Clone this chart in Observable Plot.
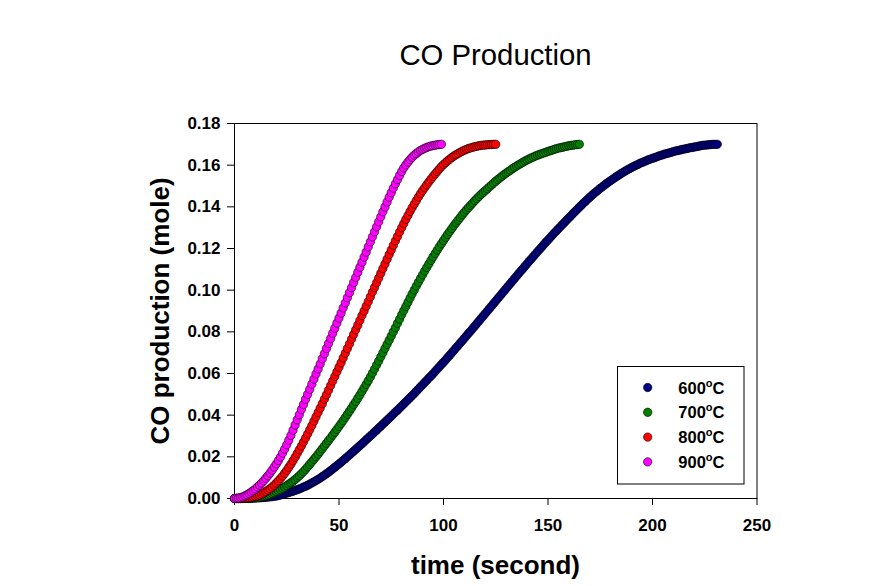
<!DOCTYPE html>
<html><head><meta charset="utf-8">
<script src="https://cdn.jsdelivr.net/npm/d3@7"></script>
<script src="https://cdn.jsdelivr.net/npm/@observablehq/plot@0.6"></script>
<style>
body{margin:0;background:#fff;}
#chart{position:relative;width:870px;height:586px;}
svg{font-family:"Liberation Sans",Arial,sans-serif;}
</style></head><body><div id="chart"></div>
<script>
const chartTitle = "CO Production";
const xLabel = "time (second)";
const yLabel = "CO production (mole)";
const seriesNames = ["600°C", "700°C", "800°C", "900°C"];
const seriesColors = ["#000080", "#008000", "#ff0000", "#ff00ff"];
const timeStep = 1; // seconds between samples
const xTicks = [0, 50, 100, 150, 200, 250];
const xTickLabels = ["0", "50", "100", "150", "200", "250"];
const yTicks = [0, 0.02, 0.04, 0.06, 0.08, 0.10, 0.12, 0.14, 0.16, 0.18];
const yTickLabels = ["0.00", "0.02", "0.04", "0.06", "0.08", "0.10", "0.12", "0.14", "0.16", "0.18"];

const co600 = [
0.0000,0.0000,0.0000,0.0000,0.0000,0.0001,0.0001,0.0001,0.0001,0.0002,
0.0002,0.0003,0.0003,0.0004,0.0005,0.0006,0.0007,0.0008,0.0009,0.0011,
0.0012,0.0014,0.0017,0.0019,0.0022,0.0026,0.0029,0.0032,0.0035,0.0039,
0.0042,0.0046,0.0050,0.0055,0.0059,0.0064,0.0069,0.0075,0.0080,0.0086,
0.0092,0.0098,0.0105,0.0112,0.0119,0.0126,0.0134,0.0142,0.0150,0.0158,
0.0166,0.0174,0.0183,0.0191,0.0200,0.0209,0.0218,0.0227,0.0236,0.0245,
0.0254,0.0263,0.0272,0.0282,0.0291,0.0300,0.0309,0.0319,0.0328,0.0338,
0.0347,0.0357,0.0366,0.0376,0.0385,0.0395,0.0405,0.0415,0.0424,0.0434,
0.0444,0.0454,0.0464,0.0474,0.0484,0.0494,0.0504,0.0515,0.0525,0.0536,
0.0546,0.0557,0.0567,0.0578,0.0588,0.0599,0.0610,0.0621,0.0632,0.0643,
0.0654,0.0665,0.0677,0.0688,0.0700,0.0711,0.0723,0.0734,0.0746,0.0757,
0.0769,0.0781,0.0793,0.0804,0.0816,0.0828,0.0840,0.0852,0.0864,0.0876,
0.0888,0.0900,0.0912,0.0924,0.0936,0.0948,0.0960,0.0972,0.0984,0.0996,
0.1008,0.1020,0.1032,0.1044,0.1056,0.1068,0.1080,0.1092,0.1103,0.1115,
0.1127,0.1139,0.1150,0.1162,0.1173,0.1185,0.1196,0.1207,0.1219,0.1230,
0.1241,0.1252,0.1263,0.1274,0.1284,0.1295,0.1305,0.1316,0.1326,0.1337,
0.1347,0.1357,0.1368,0.1378,0.1388,0.1398,0.1408,0.1418,0.1427,0.1437,
0.1446,0.1455,0.1464,0.1472,0.1480,0.1489,0.1496,0.1504,0.1512,0.1519,
0.1526,0.1533,0.1540,0.1547,0.1553,0.1560,0.1566,0.1572,0.1578,0.1583,
0.1589,0.1594,0.1599,0.1603,0.1609,0.1613,0.1617,0.1621,0.1626,0.1629,
0.1633,0.1636,0.1640,0.1644,0.1647,0.1650,0.1654,0.1656,0.1659,0.1662,
0.1665,0.1668,0.1670,0.1672,0.1675,0.1677,0.1679,0.1681,0.1684,0.1685,
0.1687,0.1689,0.1691,0.1693,0.1695,0.1696,0.1697,0.1698,0.1699,0.1700,
0.1700,0.1700];

const co700 = [
0.0000,0.0000,0.0000,0.0000,0.0001,0.0001,0.0001,0.0002,0.0002,0.0003,
0.0004,0.0005,0.0007,0.0009,0.0011,0.0014,0.0017,0.0020,0.0024,0.0028,
0.0033,0.0038,0.0043,0.0049,0.0055,0.0062,0.0069,0.0076,0.0083,0.0091,
0.0100,0.0109,0.0119,0.0129,0.0140,0.0152,0.0164,0.0176,0.0188,0.0200,
0.0213,0.0226,0.0239,0.0252,0.0265,0.0278,0.0291,0.0305,0.0318,0.0332,
0.0346,0.0360,0.0374,0.0389,0.0404,0.0419,0.0434,0.0450,0.0465,0.0481,
0.0497,0.0514,0.0531,0.0548,0.0565,0.0583,0.0602,0.0621,0.0641,0.0660,
0.0680,0.0700,0.0720,0.0740,0.0760,0.0780,0.0800,0.0820,0.0841,0.0861,
0.0882,0.0902,0.0922,0.0942,0.0962,0.0982,0.1001,0.1020,0.1038,0.1056,
0.1074,0.1092,0.1109,0.1126,0.1143,0.1160,0.1176,0.1192,0.1208,0.1223,
0.1238,0.1253,0.1268,0.1282,0.1296,0.1310,0.1323,0.1336,0.1349,0.1362,
0.1374,0.1386,0.1397,0.1408,0.1419,0.1430,0.1440,0.1450,0.1460,0.1469,
0.1478,0.1487,0.1496,0.1505,0.1514,0.1523,0.1531,0.1539,0.1547,0.1555,
0.1562,0.1569,0.1576,0.1583,0.1590,0.1596,0.1602,0.1608,0.1614,0.1620,
0.1625,0.1630,0.1635,0.1639,0.1644,0.1648,0.1652,0.1655,0.1659,0.1662,
0.1666,0.1669,0.1672,0.1676,0.1679,0.1682,0.1684,0.1686,0.1689,0.1691,
0.1693,0.1695,0.1696,0.1698,0.1699,0.1700];

const co800 = [
0.0000,0.0000,0.0000,0.0001,0.0001,0.0002,0.0003,0.0004,0.0006,0.0008,
0.0010,0.0013,0.0017,0.0021,0.0027,0.0033,0.0040,0.0047,0.0055,0.0064,
0.0074,0.0085,0.0096,0.0108,0.0121,0.0135,0.0150,0.0165,0.0181,0.0198,
0.0216,0.0234,0.0252,0.0271,0.0290,0.0310,0.0330,0.0350,0.0371,0.0392,
0.0413,0.0434,0.0455,0.0477,0.0498,0.0520,0.0542,0.0564,0.0586,0.0608,
0.0630,0.0652,0.0675,0.0697,0.0720,0.0742,0.0765,0.0787,0.0810,0.0832,
0.0855,0.0878,0.0900,0.0923,0.0945,0.0968,0.0991,0.1013,0.1036,0.1058,
0.1081,0.1104,0.1126,0.1149,0.1171,0.1193,0.1215,0.1237,0.1258,0.1279,
0.1300,0.1320,0.1340,0.1359,0.1378,0.1396,0.1413,0.1430,0.1447,0.1463,
0.1478,0.1492,0.1506,0.1520,0.1533,0.1546,0.1558,0.1570,0.1582,0.1593,
0.1603,0.1612,0.1621,0.1629,0.1637,0.1644,0.1650,0.1656,0.1662,0.1667,
0.1672,0.1676,0.1680,0.1683,0.1686,0.1689,0.1691,0.1693,0.1695,0.1696,
0.1697,0.1698,0.1699,0.1699,0.1700,0.1700];

const co900 = [
0.0000,0.0001,0.0002,0.0005,0.0008,0.0013,0.0018,0.0024,0.0031,0.0038,
0.0046,0.0055,0.0064,0.0074,0.0085,0.0097,0.0109,0.0122,0.0136,0.0151,
0.0166,0.0182,0.0199,0.0218,0.0237,0.0258,0.0280,0.0303,0.0328,0.0353,
0.0378,0.0402,0.0427,0.0451,0.0476,0.0500,0.0524,0.0549,0.0573,0.0598,
0.0622,0.0646,0.0671,0.0695,0.0720,0.0744,0.0768,0.0793,0.0817,0.0842,
0.0866,0.0890,0.0915,0.0939,0.0964,0.0988,0.1012,0.1037,0.1061,0.1086,
0.1110,0.1134,0.1159,0.1183,0.1208,0.1232,0.1256,0.1280,0.1304,0.1328,
0.1352,0.1376,0.1399,0.1423,0.1446,0.1468,0.1490,0.1511,0.1531,0.1551,
0.1570,0.1587,0.1602,0.1615,0.1627,0.1638,0.1648,0.1656,0.1664,0.1671,
0.1676,0.1681,0.1685,0.1689,0.1692,0.1694,0.1696,0.1698,0.1699,0.1700];

const seriesValues = [co600, co700, co800, co900];
const rows = [];
seriesValues.forEach((arr, k) => arr.forEach((v, i) => rows.push({t: i * timeStep, y: v, s: seriesNames[k]})));

const FONT = '"Liberation Sans", Arial, sans-serif';

const svg = Plot.plot({
  width: 870, height: 586,
  marginLeft: 234, marginRight: 113.5, marginTop: 123, marginBottom: 88,
  style: {fontFamily: FONT, background: "#fff", color: "#000", overflow: "visible"},
  x: {domain: [0, 250]},
  y: {domain: [0, 0.18]},
  color: {domain: seriesNames, range: seriesColors},
  marks: [
    Plot.frame({stroke: "#000", strokeWidth: 1}),
    Plot.axisX({ticks: xTicks, tickSize: 7, tickPadding: 13, fontSize: 17, fontWeight: "bold", label: null,
      tickFormat: (d) => xTickLabels[xTicks.indexOf(d)]}),
    Plot.axisY({ticks: yTicks, tickSize: 7, tickPadding: 7, fontSize: 17, fontWeight: "bold", label: null,
      tickFormat: (d) => yTickLabels[yTicks.findIndex((t) => Math.abs(t - d) < 1e-9)]}),
    Plot.dot(rows, {x: "t", y: "y", fill: "s", r: 4.2, stroke: "#000", strokeWidth: 0.6})
  ]
});
document.getElementById("chart").appendChild(svg);

const s = d3.select(svg);
s.append("text").attr("x", 495.5).attr("y", 65).attr("text-anchor", "middle")
  .attr("font-size", 29.3).attr("font-family", FONT).attr("fill", "#000").text(chartTitle);
s.append("text").attr("x", 495.5).attr("y", 574).attr("text-anchor", "middle")
  .attr("font-size", 26).attr("font-weight", "bold").attr("font-family", FONT).attr("fill", "#000").text(xLabel);
s.append("text").attr("transform", "translate(168.5,311) rotate(-90)").attr("text-anchor", "middle")
  .attr("font-size", 26).attr("font-weight", "bold").attr("font-family", FONT).attr("fill", "#000").text(yLabel);

// legend
const lg = s.append("g");
lg.append("rect").attr("x", 617.5).attr("y", 366.5).attr("width", 126.5).attr("height", 117.5)
  .attr("fill", "#fff").attr("stroke", "#000").attr("stroke-width", 1);
seriesNames.forEach((name, i) => {
  const cy = 387.5 + i * 24.8;
  lg.append("circle").attr("cx", 647.7).attr("cy", cy).attr("r", 4.2)
    .attr("fill", seriesColors[i]).attr("stroke", "#000").attr("stroke-width", 0.6);
  const [num, unit] = name.split("°");
  const t = lg.append("text").attr("x", 678.3).attr("y", cy + 6).attr("font-size", 16.5)
    .attr("text-anchor", "start")
    .attr("font-weight", "bold").attr("font-family", FONT).attr("fill", "#000");
  t.append("tspan").text(num);
  t.append("tspan").attr("dy", -7).attr("font-size", 11).text("o");
  t.append("tspan").attr("dy", 7).text(unit);
});
</script>
</body></html>
